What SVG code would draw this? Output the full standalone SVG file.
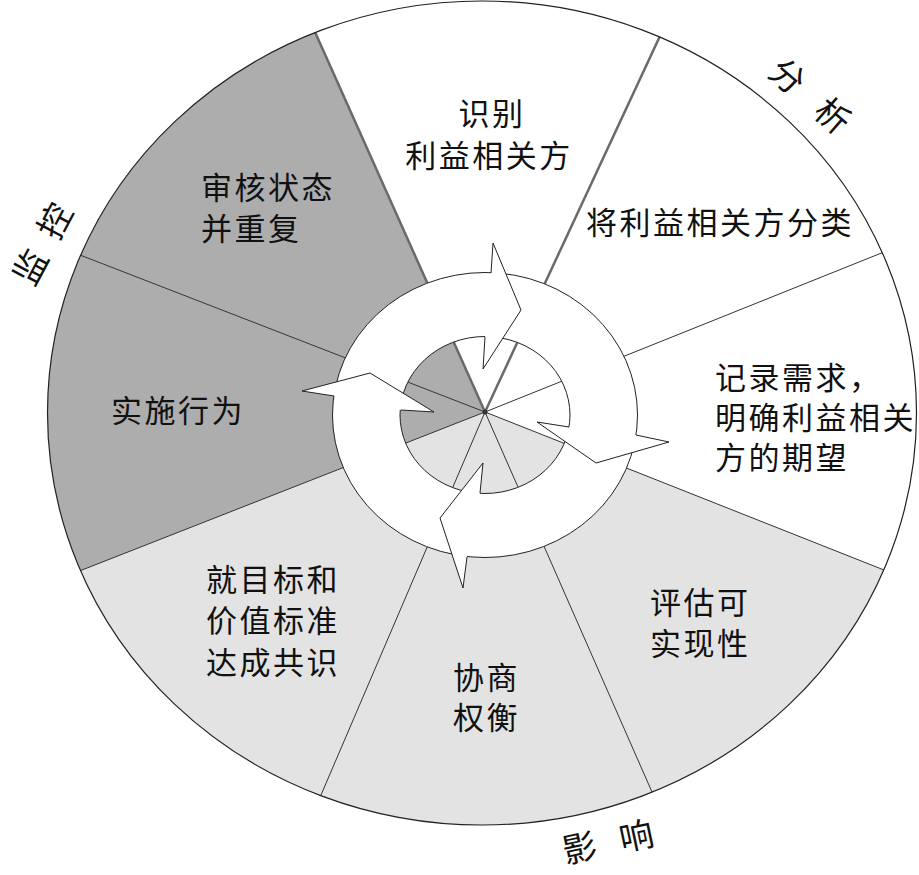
<svg xmlns="http://www.w3.org/2000/svg" width="919" height="875" viewBox="0 0 919 875">
<defs>
<clipPath id="outer"><ellipse cx="482" cy="413" rx="434.5" ry="412"/></clipPath>
<style>
.lbl{font-family:"Noto Sans CJK SC","Noto Sans",sans-serif;font-size:31px;fill:#111;letter-spacing:2.5px;dominant-baseline:central}
.mid{text-anchor:middle}
.side{font-family:"Noto Sans CJK SC","Noto Sans",sans-serif;font-size:34px;fill:#111;dominant-baseline:central;text-anchor:middle}
.dark{fill:#adadad}
.light{fill:#e3e3e3}
.white{fill:#ffffff}
.div{stroke:#333;stroke-width:1;fill:none}
.div2{stroke:#6a6a6a;stroke-width:2.5;fill:none}
.rim{fill:none;stroke:#222;stroke-width:1.2}
.ring{fill:#fff;stroke:#222;stroke-width:1;fill-rule:evenodd}
.head{fill:#fff;stroke:#222;stroke-width:1;stroke-linejoin:miter}
</style>
</defs>
<rect width="919" height="875" fill="#fff"/>

<g id="sector-review">
<polygon class="dark" clip-path="url(#outer)" points="485,412 -325,98 145,-348"/>
<text class="lbl"><tspan x="201" y="185">审核状态</tspan><tspan x="201" y="226">并重复</tspan></text>
</g>
<g id="sector-identify">
<polygon class="white" clip-path="url(#outer)" points="485,412 145,-348 835,-340"/>
<text class="lbl mid"><tspan x="492" y="111">识别</tspan><tspan x="489" y="153">利益相关方</tspan></text>
</g>
<g id="sector-classify">
<polygon class="white" clip-path="url(#outer)" points="485,412 835,-340 1283,92"/>
<text class="lbl"><tspan x="586" y="220">将利益相关方分类</tspan></text>
</g>
<g id="sector-record">
<polygon class="white" clip-path="url(#outer)" points="485,412 1283,92 1283,728"/>
<text class="lbl"><tspan x="715" y="375">记录需求，</tspan><tspan x="715" y="415">明确利益相关</tspan><tspan x="715" y="455">方的期望</tspan></text>
</g>
<g id="sector-assess">
<polygon class="light" clip-path="url(#outer)" points="485,412 1283,728 819,1172"/>
<text class="lbl"><tspan x="650" y="600">评估可</tspan><tspan x="650" y="641">实现性</tspan></text>
</g>
<g id="sector-negotiate">
<polygon class="light" clip-path="url(#outer)" points="485,412 819,1172 157,1178"/>
<text class="lbl"><tspan x="453" y="675">协商</tspan><tspan x="453" y="715">权衡</tspan></text>
</g>
<g id="sector-agree">
<polygon class="light" clip-path="url(#outer)" points="485,412 157,1178 -321,728"/>
<text class="lbl"><tspan x="206" y="577">就目标和</tspan><tspan x="206" y="618">价值标准</tspan><tspan x="206" y="660">达成共识</tspan></text>
</g>
<g id="sector-act">
<polygon class="dark" clip-path="url(#outer)" points="485,412 -321,728 -325,98"/>
<text class="lbl"><tspan x="111" y="408">实施行为</tspan></text>
</g>

<g id="dividers" clip-path="url(#outer)">
<line class="div2" x1="485" y1="412" x2="145" y2="-348"/>
<line class="div2" x1="485" y1="412" x2="835" y2="-340"/>
<line class="div" x1="485" y1="412" x2="1283" y2="92"/>
<line class="div" x1="485" y1="412" x2="1283" y2="728"/>
<line class="div" x1="485" y1="412" x2="819" y2="1172"/>
<line class="div" x1="485" y1="412" x2="157" y2="1178"/>
<line class="div" x1="485" y1="412" x2="-321" y2="728"/>
<line class="div" x1="485" y1="412" x2="-325" y2="98"/>
</g>
<ellipse class="rim" cx="482" cy="413" rx="434.5" ry="412"/>
<circle cx="485" cy="412" r="2.5" fill="#333"/>

<g id="connectors">
<path class="ring" d="M332.5,415 a152.5,142.5 0 1,0 305,0 a152.5,142.5 0 1,0 -305,0 Z M400,415 a85,78.5 0 1,0 170,0 a85,78.5 0 1,0 -170,0 Z"/>
<path class="head" d="M491,273 L493,243 L521,310 L483,369 L485,337"/>
<path class="head" d="M636,435 L669,442 L596,463 L537,422 L569,427"/>
<path class="head" d="M467,557 L463,588 L440,518 L483,463 L480,493"/>
<path class="head" d="M334,396 L302,391 L370,373 L434,412 L401,410"/>
</g>

<g id="stage-monitor">
<text class="side" transform="translate(41,243) rotate(-62)" x="-26 0 26">监 控</text>
</g>
<g id="stage-analyze">
<text class="side" transform="translate(811.5,94.5) rotate(41)" x="-30 0 30">分 析</text>
</g>
<g id="stage-influence">
<text class="side" transform="translate(607.5,840) rotate(-12)" x="-29 0 29">影 响</text>
</g>
</svg>
